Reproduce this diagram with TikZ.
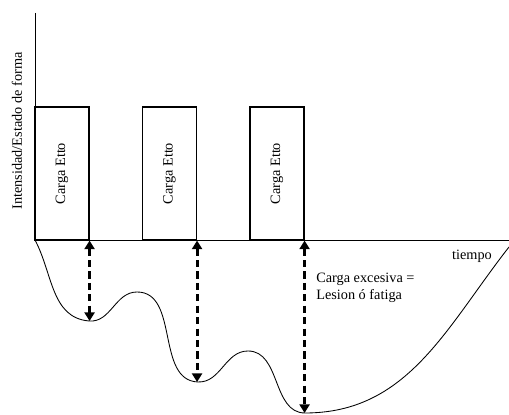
\documentclass[tikz,border=0pt]{standalone}
\usepackage{fontspec}
\setmainfont{Liberation Serif}
\usetikzlibrary{arrows.meta}

\begin{document}
\begin{tikzpicture}[x=0.7pt, y=0.7pt, font=\fontsize{10}{12}\selectfont,
        carga/.style={draw, line width=0.8pt, rotate=90, minimum width=93.1pt, minimum height=37.8pt, inner sep=0pt},
        salto/.style={line width=2pt, dash pattern=on 5pt off 3pt, {Triangle[width=7pt, length=6pt]}-{Triangle[width=7pt, length=6pt]}}]
        \useasboundingbox (0, 0) rectangle (509, 415);

        % ejes
        \coordinate (o) at (35, 175);
        \coordinate (ytop) at (35, 402);
        \coordinate (xend) at (509, 175);

        % cargas
        \node[carga] (c1) at (62, 241.5) {Carga Etto};
        \node[carga] (c2) at (169.5, 241.5) {Carga Etto};
        \node[carga] (c3) at (277, 241.5) {Carga Etto};

        % estado de forma
        \coordinate (m1) at (89, 94);
        \coordinate (m2) at (198, 33);
        \coordinate (m3) at (305, 2);
        \coordinate (fin) at (509, 168);

        \draw[line width=0.6pt] (ytop) -- (o) -- (xend);
        \draw[line width=0.6pt] (o) to[out=-62, in=175] (m1)
            to[out=-5, in=180] (137, 123)
            to[out=0, in=178] (m2)
            to[out=-2, in=180] (248, 64)
            to[out=0, in=180] (m3)
            to[out=0, in=-128] (fin);

        \draw[salto] (c1.south west) -- (c1.south west |- m1);
        \draw[salto] (c2.south west) -- (c2.south west |- m2);
        \draw[salto] (c3.south west) -- (c3.south west |- m3);

        \node (t) at (472, 159) {tiempo};
        \node[anchor=west, align=left, inner sep=0pt] (exc) at (316, 127) {Carga excesiva =\\Lesion ó fatiga};
        \node[rotate=90] (ylab) at (17, 284) {Intensidad/Estado de forma};
    \end{tikzpicture}
\end{document}
